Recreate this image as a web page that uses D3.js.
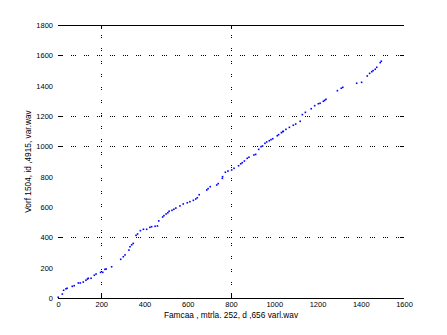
<!DOCTYPE html>
<html>
<head>
<meta charset="utf-8">
<script src="https://cdn.jsdelivr.net/npm/d3@7"></script>
<style>
  body { margin: 0; background: #fff; }
  svg { display: block; }
  text { font-family: "Liberation Sans", Arial, sans-serif; font-size: 7.5px; fill: #000; }
  .axis-title { font-size: 8.3px; }
</style>
</head>
<body>
<div id="chart"></div>
<script>
// sorted sample pairs
const xValues = [1, 20, 26, 37, 42, 66, 75, 94, 103, 117, 129, 136, 140, 153, 168, 176, 197, 207, 217, 223, 248,
  290, 302, 310, 328, 333, 341, 348, 361, 368, 381, 395, 410, 425, 433, 449, 460, 466, 484, 490, 500, 508, 514,
  527, 536, 545, 564, 579, 598, 610, 626, 637, 644, 653, 688, 694, 704, 734, 741, 760, 761, 774, 786, 803, 814,
  835, 845, 852, 862, 875, 883, 906, 914, 928, 939, 946, 957, 965, 977, 985, 993, 1014, 1020, 1033, 1039, 1042,
  1054, 1070, 1088, 1099, 1120, 1130, 1144, 1171, 1187, 1204, 1212, 1227, 1233, 1239, 1292, 1310, 1317, 1381,
  1404, 1430, 1441, 1451, 1457, 1467, 1474, 1490, 1495];
const yValues = [5, 26, 51, 61, 64, 77, 81, 99, 99, 105, 117, 125, 130, 130, 150, 158, 169, 169, 189, 191, 206,
  255, 272, 284, 316, 338, 351, 360, 413, 422, 444, 453, 453, 466, 470, 473, 475, 508, 534, 543, 554, 562, 572,
  578, 585, 593, 607, 620, 628, 635, 644, 653, 661, 681, 712, 721, 734, 745, 754, 789, 800, 829, 837, 844, 855,
  872, 885, 892, 903, 921, 928, 943, 947, 980, 998, 1002, 1020, 1029, 1037, 1044, 1050, 1070, 1077, 1090, 1097, 1099,
  1112, 1125, 1139, 1147, 1165, 1209, 1224, 1248, 1268, 1281, 1284, 1297, 1303, 1310, 1367, 1383, 1389, 1416,
  1422, 1464, 1481, 1492, 1499, 1508, 1521, 1552, 1561];

const xTicks = [0, 200, 400, 600, 800, 1000, 1200, 1400, 1600];
const yTicks = [0, 200, 400, 600, 800, 1000, 1200, 1400, 1600, 1800];
const xGrid = [200, 800];
const yGrid = [400, 1000, 1200, 1600];

const xLabel = "Famcaa , mtrla. 252, d ,656 varl.wav";
const yLabel = "Vorf 1504, id ,4915, var.wav";

const W = 447, H = 335;
const margin = { top: 25, right: 43, bottom: 37, left: 58 };

const svg = d3.select("#chart").append("svg")
    .attr("width", W)
    .attr("height", H);

const x = d3.scaleLinear().domain([0, 1600]).range([margin.left, W - margin.right]);
const y = d3.scaleLinear().domain([0, 1800]).range([H - margin.bottom, margin.top]);

const crisp = v => Math.round(v) + 0.5;

// dotted grid
const grid = svg.append("g").attr("stroke", "#000").attr("stroke-width", 1).attr("shape-rendering", "crispEdges");
grid.selectAll(".vg").data(xGrid).enter().append("line")
    .attr("x1", d => crisp(x(d))).attr("x2", d => crisp(x(d)))
    .attr("y1", y(0)).attr("y2", y(1800))
    .attr("stroke-dasharray", "1,1,1,10");
grid.selectAll(".hg").data(yGrid).enter().append("line")
    .attr("x1", x(0)).attr("x2", x(1600))
    .attr("y1", d => crisp(y(d))).attr("y2", d => crisp(y(d)))
    .attr("stroke-dasharray", "1,1,1,1,1,8");

// tick marks on the gridded values
const ticks = svg.append("g").attr("stroke", "#000").attr("shape-rendering", "crispEdges");
xGrid.forEach(d => {
    ticks.append("line").attr("x1", crisp(x(d))).attr("x2", crisp(x(d))).attr("y1", y(0)).attr("y2", y(0) - 5);
    ticks.append("line").attr("x1", crisp(x(d))).attr("x2", crisp(x(d))).attr("y1", y(1800)).attr("y2", y(1800) + 4);
});
yGrid.forEach(d => {
    ticks.append("line").attr("x1", x(0)).attr("x2", x(0) + 4).attr("y1", crisp(y(d))).attr("y2", crisp(y(d)));
    ticks.append("line").attr("x1", x(1600) - 4).attr("x2", x(1600)).attr("y1", crisp(y(d))).attr("y2", crisp(y(d)));
});

// top and bottom frame lines
ticks.append("line").attr("x1", x(0)).attr("x2", x(1600)).attr("y1", crisp(y(0))).attr("y2", crisp(y(0)));
ticks.append("line").attr("x1", x(0)).attr("x2", x(1600)).attr("y1", crisp(y(1800))).attr("y2", crisp(y(1800)));

// axis labels via d3 axes (no domain, no tick lines)
const xAxis = svg.append("g")
    .attr("transform", `translate(0,${y(0)})`)
    .call(d3.axisBottom(x).tickValues(xTicks).tickSize(0).tickPadding(4).tickFormat(d3.format("d")));
const yAxis = svg.append("g")
    .attr("transform", `translate(${x(0)},0)`)
    .call(d3.axisLeft(y).tickValues(yTicks).tickSize(0).tickPadding(5).tickFormat(d3.format("d")));
[xAxis, yAxis].forEach(a => {
    a.select(".domain").remove();
    a.selectAll("text").attr("font-size", null).attr("font-family", null).attr("fill", null);
    a.attr("font-size", null).attr("font-family", null);
});

svg.append("text")
    .attr("class", "axis-title")
    .attr("x", (x(0) + x(1600)) / 2)
    .attr("y", 318)
    .attr("text-anchor", "middle")
    .text(xLabel);

svg.append("text")
    .attr("class", "axis-title")
    .attr("transform", `translate(31,${(y(0) + y(1800)) / 2}) rotate(-90)`)
    .attr("text-anchor", "middle")
    .text(yLabel);

// data points (small MATLAB-style '.' markers)
svg.append("g").selectAll("rect")
    .data(xValues.map((v, i) => [v, yValues[i]]))
    .enter().append("rect")
    .attr("x", d => x(d[0]) - 0.8)
    .attr("y", d => y(d[1]) - 0.8)
    .attr("width", 1.6)
    .attr("height", 1.6)
    .attr("fill", "#0000ff");
</script>
</body>
</html>
